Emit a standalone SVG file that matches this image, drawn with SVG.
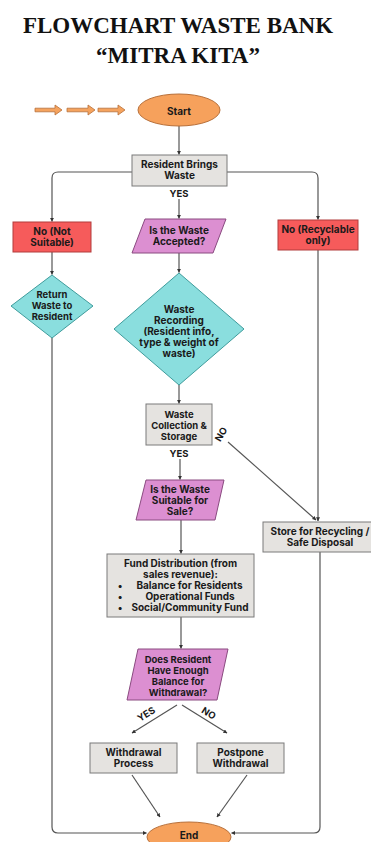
<svg xmlns="http://www.w3.org/2000/svg" width="371" height="842" viewBox="0 0 371 842">
<defs>
<marker id="ah" viewBox="0 0 6 6" refX="5.5" refY="3" markerWidth="4" markerHeight="4" orient="auto" markerUnits="userSpaceOnUse">
<path d="M0,0 L6,3 L0,6 z" fill="#333"/>
</marker>
<style>
.t{font-family:Inter,"Liberation Sans",sans-serif;font-weight:700;font-size:10px;fill:#1a1a1a;text-anchor:middle}
.s{font-size:9.5px}
.title{font-family:"Liberation Serif","DejaVu Serif",serif;font-weight:700;font-size:23px;fill:#111;text-anchor:middle}
.ln{fill:none;stroke:#555;stroke-width:1.2}
.gray{fill:#e5e3e0;stroke:#7a7a7a;stroke-width:1}
.red{fill:#f65b5b;stroke:#b23c3c;stroke-width:1}
.pink{fill:#dc8fd1;stroke:#8a4a80;stroke-width:1}
.cyan{fill:#8adede;stroke:#3f9c9c;stroke-width:1}
.orange{fill:#f6a15c;stroke:#b8703a;stroke-width:1}
.arr{fill:#f5a35e;stroke:#b8703a;stroke-width:0.8}
</style>
</defs>
<rect width="371" height="842" fill="#ffffff"/>
<g id="title">
<text class="title" x="178" y="33">FLOWCHART WASTE BANK</text>
<text class="title" x="178" y="63">“MITRA KITA”</text>
</g>
<g id="deco-arrows">
<path class="arr" d="M35,108.2 H55 V105 L62,110 L55,115 V111.8 H35 z"/>
<path class="arr" d="M67,108.2 H88 V105 L95,110 L88,115 V111.8 H67 z"/>
<path class="arr" d="M98,108.2 H118 V105 L125,110 L118,115 V111.8 H98 z"/>
</g>
<g id="connectors">
<path class="ln" d="M179,126 V154.5" marker-end="url(#ah)"/>
<path class="ln" d="M132,172 H58 Q52,172 52,178 V221.5" marker-end="url(#ah)"/>
<path class="ln" d="M227,172 H312 Q318,172 318,178 V219.5" marker-end="url(#ah)"/>
<path class="ln" d="M179,199 V218.5" marker-end="url(#ah)"/>
<path class="ln" d="M52,252 V274.5" marker-end="url(#ah)"/>
<path class="ln" d="M179,253 V272.5" marker-end="url(#ah)"/>
<path class="ln" d="M179,385 V403.5" marker-end="url(#ah)"/>
<path class="ln" d="M180,459 V479.5" marker-end="url(#ah)"/>
<path class="ln" d="M228,442 L316,520" marker-end="url(#ah)"/>
<path class="ln" d="M318,250 V521" marker-end="url(#ah)"/>
<path class="ln" d="M181,520 V553.5" marker-end="url(#ah)"/>
<path class="ln" d="M181,617 V648.5" marker-end="url(#ah)"/>
<path class="ln" d="M177,705 L132,733" marker-end="url(#ah)"/>
<path class="ln" d="M182,705 L227,733" marker-end="url(#ah)"/>
<path class="ln" d="M132,775 L160,817" marker-end="url(#ah)"/>
<path class="ln" d="M247,775 L217,817" marker-end="url(#ah)"/>
<path class="ln" d="M52,338 V827 Q52,833 58,833 H146.5" marker-end="url(#ah)"/>
<path class="ln" d="M320,552 V827 Q320,833 314,833 H231.5" marker-end="url(#ah)"/>
<text class="t s" x="179" y="197">YES</text>
<text class="t s" x="179" y="457">YES</text>
<text class="t s" transform="translate(224,436) rotate(-60)">NO</text>
<text class="t s" transform="translate(148,717) rotate(-32)">YES</text>
<text class="t s" transform="translate(207,716) rotate(32)">NO</text>
</g>
<g id="start">
<ellipse class="orange" cx="179" cy="110" rx="41" ry="16"/>
<text class="t" x="179" y="115" font-size="13">Start</text>
</g>
<g id="resident-brings">
<rect class="gray" x="132" y="155" width="95" height="31"/>
<text class="t" x="179.5" y="168">Resident Brings</text>
<text class="t" x="179.5" y="179">Waste</text>
</g>
<g id="not-suitable">
<rect class="red" x="13" y="222" width="78" height="30"/>
<text class="t" x="52" y="235">No (Not</text>
<text class="t" x="52" y="246">Suitable)</text>
</g>
<g id="accepted">
<polygon class="pink" points="145,219 226,219 213,253 132,253"/>
<text class="t" x="179" y="234">Is the Waste</text>
<text class="t" x="179" y="245">Accepted?</text>
</g>
<g id="recyclable-only">
<rect class="red" x="278" y="220" width="80" height="30"/>
<text class="t" x="318" y="233">No (Recyclable</text>
<text class="t" x="318" y="244">only)</text>
</g>
<g id="return-waste">
<polygon class="cyan" points="52,275 93,306 52,338 11,306"/>
<text class="t s" x="52" y="298">Return</text>
<text class="t s" x="52" y="309">Waste to</text>
<text class="t s" x="52" y="320">Resident</text>
</g>
<g id="waste-recording">
<polygon class="cyan" points="179,273 244,329 179,385 114,329"/>
<text class="t" x="179" y="313">Waste</text>
<text class="t" x="179" y="324">Recording</text>
<text class="t" x="179" y="335">(Resident info,</text>
<text class="t" x="179" y="346">type &amp; weight of</text>
<text class="t" x="179" y="357">waste)</text>
</g>
<g id="collection-storage">
<rect class="gray" x="146" y="404" width="66" height="41"/>
<text class="t s" x="179" y="418">Waste</text>
<text class="t s" x="179" y="429">Collection &amp;</text>
<text class="t s" x="179" y="440">Storage</text>
</g>
<g id="suitable-sale">
<polygon class="pink" points="146,480 224,480 215,520 136,520"/>
<text class="t" x="180" y="493">Is the Waste</text>
<text class="t" x="180" y="504">Suitable for</text>
<text class="t" x="180" y="515">Sale?</text>
</g>
<g id="store-recycling">
<rect class="gray" x="263" y="522" width="112" height="30"/>
<text class="t" x="320" y="535">Store for Recycling /</text>
<text class="t" x="320" y="546">Safe Disposal</text>
</g>
<g id="fund-distribution">
<rect class="gray" x="107" y="554" width="147" height="63"/>
<text class="t" x="180.5" y="567">Fund Distribution (from</text>
<text class="t" x="180.5" y="578">sales revenue):</text>
<text class="t" x="120" y="589">•</text>
<text class="t" x="189.5" y="589">Balance for Residents</text>
<text class="t" x="120" y="600">•</text>
<text class="t" x="190" y="600">Operational Funds</text>
<text class="t" x="120" y="611">•</text>
<text class="t" x="190" y="611">Social/Community Fund</text>
</g>
<g id="enough-balance">
<polygon class="pink" points="138,649 228,649 217,700 127,700"/>
<text class="t s" x="178" y="663">Does Resident</text>
<text class="t s" x="178" y="674">Have Enough</text>
<text class="t s" x="178" y="685">Balance for</text>
<text class="t s" x="178" y="696">Withdrawal?</text>
</g>
<g id="withdrawal-process">
<rect class="gray" x="90" y="743" width="87" height="30"/>
<text class="t" x="133.5" y="756">Withdrawal</text>
<text class="t" x="133.5" y="767">Process</text>
</g>
<g id="postpone">
<rect class="gray" x="197" y="743" width="87" height="30"/>
<text class="t" x="240.5" y="756">Postpone</text>
<text class="t" x="240.5" y="767">Withdrawal</text>
</g>
<g id="end">
<ellipse class="orange" cx="189" cy="837" rx="42" ry="15"/>
<text class="t" x="189" y="839">End</text>
</g>
</svg>
